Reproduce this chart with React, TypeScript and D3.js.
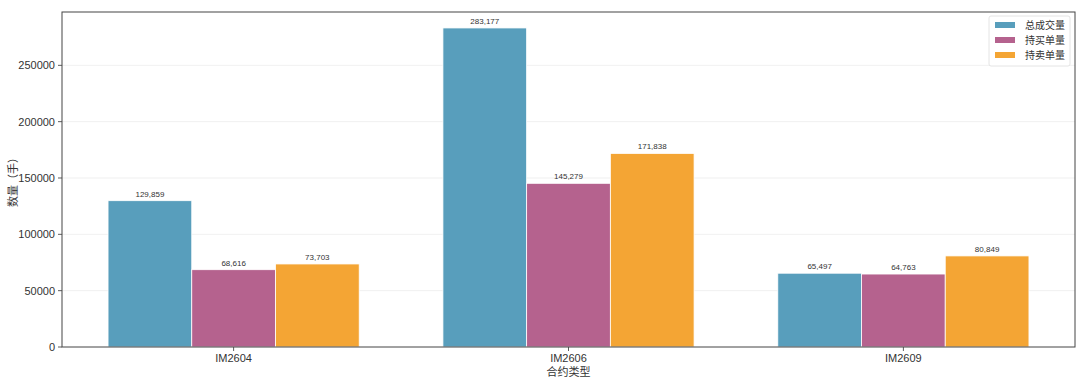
import React from "react";
import * as d3 from "d3";

const categories = ["IM2604", "IM2606", "IM2609"];
const seriesNames = ["总成交量", "持买单量", "持卖单量"];
const totalVolume = [129859, 283177, 65497];
const buyVolume = [68616, 145279, 64763];
const sellVolume = [73703, 171838, 80849];
const yTicks = [0, 50000, 100000, 150000, 200000, 250000];
const colors = ["rgb(88,158,188)", "rgb(181,98,142)", "rgb(244,165,52)"];

const W = 1080, H = 380;
const M = { left: 62, right: 1075, top: 12, bottom: 347 };
const FONT = "Liberation Sans, Arial, 'Noto Sans CJK SC', sans-serif";
const CJK = "'Noto Sans CJK SC', sans-serif";

export default function App() {
  const series = [totalVolume, buyVolume, sellVolume];
  const bw = 0.25;
  const x = d3.scaleLinear().domain([-0.5125, 2.5125]).range([M.left, M.right]);
  const yMax = d3.max([...totalVolume, ...buyVolume, ...sellVolume])! * 1.05;
  const y = d3.scaleLinear().domain([0, yMax]).range([M.bottom, M.top]);
  const fmt = d3.format(",");
  return (
    <svg width={W} height={H} style={{ position: "absolute", left: 0, top: 0 }}>
      <rect x={0} y={0} width={W} height={H} fill="#fff" />
      {yTicks.map((t) => (
        <g key={t}>
          {t > 0 && (
            <line x1={M.left} x2={M.right} y1={y(t)} y2={y(t)} stroke="#ececec" strokeWidth={0.8} />
          )}
          <line x1={M.left - 4} x2={M.left} y1={y(t)} y2={y(t)} stroke="#333" strokeWidth={0.8} />
          <text x={M.left - 7} y={y(t)} dy="0.35em" textAnchor="end" fontSize={11} fill="#333" fontFamily={FONT}>
            {t}
          </text>
        </g>
      ))}
      {series.map((vals, si) =>
        vals.map((v, ci) => {
          const cx = ci + (si - 1) * bw;
          const x0 = x(cx - bw / 2);
          const x1 = x(cx + bw / 2);
          return (
            <g key={`${si}-${ci}`}>
              <rect x={x0} y={y(v)} width={x1 - x0} height={y(0) - y(v)} fill={colors[si]} stroke="#fff" strokeWidth={0.8} />
              <text x={(x0 + x1) / 2} y={y(v) - 4} textAnchor="middle" fontSize={8} fill="#333" fontFamily={FONT}>
                {fmt(v)}
              </text>
            </g>
          );
        })
      )}
      {categories.map((c, i) => (
        <g key={c}>
          <line x1={x(i)} x2={x(i)} y1={M.bottom} y2={M.bottom + 4} stroke="#333" strokeWidth={0.8} />
          <text x={x(i)} y={M.bottom + 15} textAnchor="middle" fontSize={11} fill="#333" fontFamily={FONT}>
            {c}
          </text>
        </g>
      ))}
      <rect x={M.left} y={M.top} width={M.right - M.left} height={M.bottom - M.top} fill="none" stroke="#444" strokeWidth={1} />
      <text x={x(1)} y={376} textAnchor="middle" fontSize={11} fill="#333" fontFamily={CJK}>
        合约类型
      </text>
      <text transform={`translate(13,${(M.top + M.bottom) / 2}) rotate(-90)`} textAnchor="middle" dy="0.35em" fontSize={11} fill="#333" fontFamily={CJK}>
        数量（手）
      </text>
      <g transform="translate(989,16)">
        <rect x={0} y={0} width={81} height={50} fill="#fff" stroke="#ddd" strokeWidth={0.8} rx={2} />
        {seriesNames.map((n, i) => (
          <g key={n} transform={`translate(0,${i * 15})`}>
            <rect x={6} y={6} width={20} height={6} fill={colors[i]} />
            <text x={36} y={9} dy="0.35em" fontSize={10} fill="#333" fontFamily={CJK}>
              {n}
            </text>
          </g>
        ))}
      </g>
    </svg>
  );
}
